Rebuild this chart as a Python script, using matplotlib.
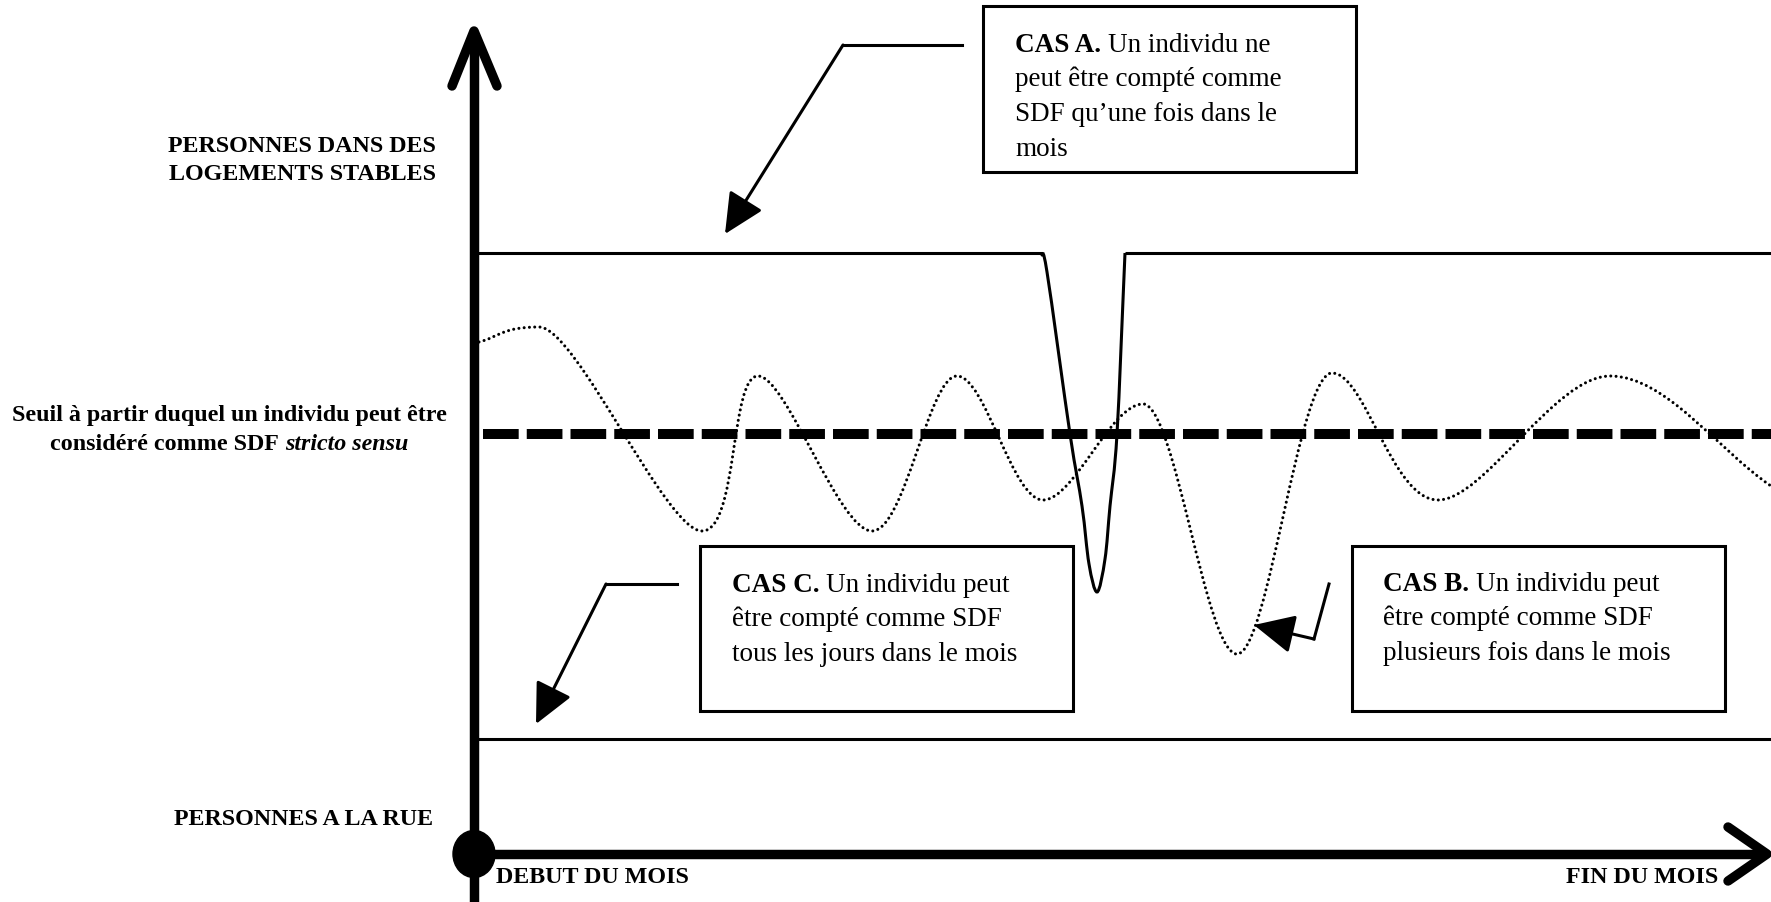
import matplotlib
matplotlib.use("Agg")
import matplotlib.pyplot as plt
import numpy as np
from matplotlib.path import Path
from matplotlib.patches import PathPatch, Rectangle, Ellipse, FancyArrowPatch

plt.rcParams['font.family'] = ['Liberation Serif', 'DejaVu Serif']
plt.rcParams['lines.scale_dashes'] = False

# ---------------- data (pixel-like units) ----------------
W, H = 1771, 903
axis_x = 474                 # vertical axis position
axis_y = 855                 # horizontal axis position
axis_top = 32
axis_right = 1767

level_stable = 254           # CAS A : people in stable housing
level_seuil = 435            # threshold line
level_rue = 740              # CAS C : people on the street

cas_a_left = [478, 1041]
cas_a_right = [1125, 1771]
dip_x = [1041, 1047, 1070, 1082, 1089, 1097, 1105, 1110, 1117, 1125]
dip_y = [254, 273, 435, 507, 565, 593, 560, 507, 435, 254]

wave_x = [479, 539, 702, 758, 872, 957, 1043, 1143, 1237, 1332, 1438, 1610, 1771]
wave_y = [343, 328, 532, 377, 532, 377, 501, 405, 655, 374, 501, 377, 487]

seuil_x = [483, 1771]
rue_x = [480, 1771]

box_a = (983, 7, 1356, 173)
box_c = (700, 547, 1073, 712)
box_b = (1352, 547, 1725, 712)

lead_a = [(962, 46), (843, 46), (725, 235)]
lead_c = [(677, 585), (606, 585), (536, 725)]
lead_b = [(1329, 585), (1314, 640), (1254, 626)]

text_a = [("CAS A.", "Un individu ne"), "peut être compté comme", "SDF qu’une fois dans le", "mois"]
text_c = [("CAS C.", "Un individu peut"), "être compté comme SDF", "tous les jours dans le mois"]
text_b = [("CAS B.", "Un individu peut"), "être compté comme SDF", "plusieurs fois dans le mois"]

label_stable = ["PERSONNES DANS DES", "LOGEMENTS STABLES"]
label_seuil_1 = "Seuil à partir duquel un individu peut être"
label_seuil_2 = ("considéré comme SDF", "stricto sensu")
label_rue = "PERSONNES A LA RUE"
label_debut = "DEBUT DU MOIS"
label_fin = "FIN DU MOIS"

# ---------------- figure ----------------
fig = plt.figure(figsize=(W / 100, H / 100), dpi=100)
ax = fig.add_axes([0, 0, 1, 1])
ax.set_xlim(0, W)
ax.set_ylim(H, 0)
ax.axis('off')
renderer = fig.canvas.get_renderer()


def smooth_path(xs, ys):
    P = np.column_stack([xs, ys]).astype(float)
    n = len(P)
    T = np.zeros_like(P)
    for i in range(n):
        if i == 0:
            T[i] = P[1] - P[0]
        elif i == n - 1:
            T[i] = P[-1] - P[-2]
        else:
            T[i] = (P[i + 1] - P[i - 1]) / 2
            if (P[i, 1] - P[i - 1, 1]) * (P[i + 1, 1] - P[i, 1]) < 0:
                T[i, 1] = 0
    verts = [P[0]]
    codes = [Path.MOVETO]
    for i in range(n - 1):
        verts += [P[i] + T[i] / 3, P[i + 1] - T[i + 1] / 3, P[i + 1]]
        codes += [Path.CURVE4] * 3
    return Path(verts, codes)


# dotted wave (CAS B)
wave = PathPatch(smooth_path(wave_x, wave_y), fill=False, lw=2.2, ec='black',
                 linestyle=(0, (0.01, 3.8)), capstyle='round', zorder=2)
ax.add_patch(wave)

# threshold dashed line
ax.plot(seuil_x, [level_seuil] * 2, color='black', lw=7.2,
        linestyle=(0, (25.7, 5.8)), dash_capstyle='butt', zorder=3)

# CAS A line with dip
ax.plot(cas_a_left, [level_stable] * 2, color='black', lw=2.2, zorder=4)
ax.plot(cas_a_right, [level_stable] * 2, color='black', lw=2.2, zorder=4,
        solid_capstyle='butt')
ax.add_patch(PathPatch(smooth_path(dip_x, dip_y), fill=False, lw=2.2, ec='black', zorder=4))

# CAS C line
ax.plot(rue_x, [level_rue] * 2, color='black', lw=2.2, zorder=4)

# axes
ax.plot([axis_x, axis_x], [H + 5, axis_top + 4], color='black', lw=6.8,
        solid_capstyle='butt', zorder=6)
ax.plot([axis_x - 22, axis_x, axis_x + 23], [axis_top + 55, axis_top, axis_top + 55],
        color='black', lw=6.8, solid_capstyle='round', solid_joinstyle='round', zorder=6)
ax.plot([axis_x, axis_right - 4], [axis_y, axis_y], color='black', lw=6.8,
        solid_capstyle='butt', zorder=6)
ax.plot([axis_right - 39, axis_right, axis_right - 39], [axis_y - 27, axis_y, axis_y + 27],
        color='black', lw=6.8, solid_capstyle='round', solid_joinstyle='round', zorder=6)
ax.add_patch(Ellipse((axis_x, axis_y), 42, 47, color='black', zorder=7))

# boxes
for (x0, y0, x1, y1) in (box_a, box_c, box_b):
    ax.add_patch(Rectangle((x0, y0), x1 - x0, y1 - y0, fill=True, fc='white',
                           ec='black', lw=2.2, zorder=8))

# leaders with arrows
for lead in (lead_a, lead_c, lead_b):
    xs = [p[0] for p in lead[:-1]]
    ys = [p[1] for p in lead[:-1]]
    ax.plot(xs, ys, color='black', lw=2.2, zorder=5, solid_joinstyle='miter')
    arr = FancyArrowPatch(lead[-2], lead[-1], arrowstyle='-|>,head_length=2.5,head_width=1.2',
                          mutation_scale=10, lw=2.2, color='black', shrinkA=0, shrinkB=0,
                          zorder=5)
    ax.add_patch(arr)

# box texts
BOX_FS = 19.5
space_px = 0.25 * BOX_FS * 100 / 72


def box_text(lines, x, y0, step=34.5):
    for i, ln in enumerate(lines):
        y = y0 + i * step
        if isinstance(ln, tuple):
            t = ax.text(x, y, ln[0], fontsize=BOX_FS, fontweight='bold', va='baseline',
                        ha='left', zorder=9)
            w = t.get_window_extent(renderer).width
            ax.text(x + w + space_px, y, ln[1], fontsize=BOX_FS, va='baseline', ha='left', zorder=9)
        else:
            ax.text(x, y, ln, fontsize=BOX_FS, va='baseline', ha='left', zorder=9)


box_text(text_a, box_a[0] + 32, box_a[1] + 45)
box_text(text_c, box_c[0] + 32, box_c[1] + 45)
box_text(text_b, box_b[0] + 31, box_b[1] + 44)

# side labels
LAB_FS = 17.3
ax.text(436, 152, label_stable[0], fontsize=LAB_FS, fontweight='bold', ha='right', va='baseline')
ax.text(436, 180, label_stable[1], fontsize=LAB_FS, fontweight='bold', ha='right', va='baseline')
ax.text(229, 421, label_seuil_1, fontsize=LAB_FS, fontweight='bold', ha='center', va='baseline')
t1 = ax.text(0, 450, label_seuil_2[0], fontsize=LAB_FS, fontweight='bold', ha='left', va='baseline')
t2 = ax.text(0, 450, label_seuil_2[1], fontsize=LAB_FS, fontweight='bold', fontstyle='italic',
             ha='left', va='baseline')
w1 = t1.get_window_extent(renderer).width
w2 = t2.get_window_extent(renderer).width
sp = 0.25 * LAB_FS * 100 / 72
start = 229 - (w1 + sp + w2) / 2
t1.set_x(start)
t2.set_x(start + w1 + sp)
ax.text(433, 825, label_rue, fontsize=LAB_FS, fontweight='bold', ha='right', va='baseline')
ax.text(496, 883, label_debut, fontsize=LAB_FS, fontweight='bold', ha='left', va='baseline')
ax.text(1718, 883, label_fin, fontsize=LAB_FS, fontweight='bold', ha='right', va='baseline')

fig.savefig("out.png", dpi=100, facecolor='white')
